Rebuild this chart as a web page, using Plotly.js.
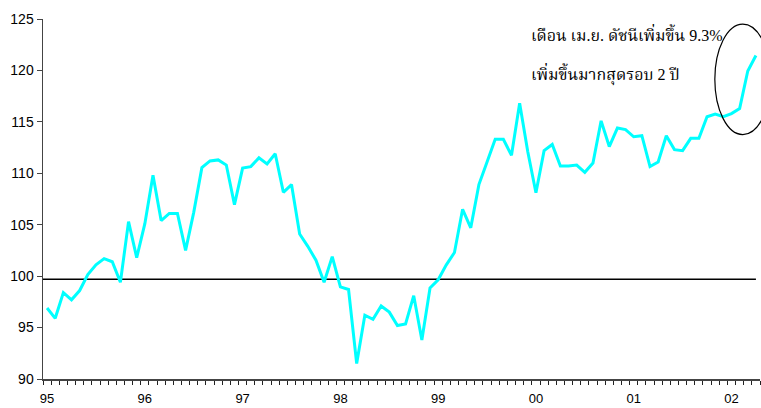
<!DOCTYPE html>
<html>
<head>
<meta charset="utf-8">
<script src="https://cdn.plot.ly/plotly-3.0.1.min.js"></script>
<style>html,body{margin:0;padding:0;background:#fff;}#chart{width:761px;height:408px;}</style>
</head>
<body>
<div id="chart"></div>
<script>
// Monthly index, Jan 1995 .. Apr 2002
const values = [
  96.9, 95.9, 98.4, 97.7, 98.6, 100.15, 101.1, 101.7, 101.4, 99.4, 105.3, 101.8,
  105.1, 109.8, 105.4, 106.1, 106.1, 102.5, 106.2, 110.55, 111.2, 111.3, 110.8, 106.95,
  110.5, 110.65, 111.5, 110.9, 111.9, 108.15, 108.9, 104.1, 102.9, 101.55, 99.4, 101.9,
  98.95, 98.7, 91.5, 96.2, 95.8, 97.1, 96.5, 95.2, 95.35, 98.1, 93.8, 98.85,
  99.65, 101.1, 102.3, 106.5, 104.7, 108.9, 111.1, 113.3, 113.3, 111.75, 116.8, 112.1,
  108.1, 112.2, 112.8, 110.7, 110.7, 110.8, 110.1, 111.0, 115.1, 112.6, 114.4, 114.25,
  113.55, 113.65, 110.65, 111.1, 113.65, 112.3, 112.2, 113.4, 113.4, 115.5, 115.75, 115.5,
  115.8, 116.3, 119.95, 121.45
];
const yearLabels = ['95', '96', '97', '98', '99', '00', '01', '02'];
const yearStartIndex = [0, 12, 24, 36, 48, 60, 72, 84];
const baseline = 99.7;
const noteLine1 = 'เดือน เม.ย. ดัชนีเพิ่มขึ้น 9.3%';
const noteLine2 = 'เพิ่มขึ้นมากสุดรอบ 2 ปี';

const monthIndex = values.map((_, i) => i);

const trace = {
  x: monthIndex,
  y: values,
  type: 'scatter',
  mode: 'lines',
  line: {color: '#00FFFF', width: 3},
  hoverinfo: 'skip'
};

const serif = '"Liberation Serif", "Noto Serif Thai", "Noto Sans Thai", serif';

const layout = {
  width: 761,
  height: 408,
  margin: {l: 43, r: 1, t: 19, b: 29},
  paper_bgcolor: '#fff',
  plot_bgcolor: '#fff',
  showlegend: false,
  xaxis: {
    range: [-0.5, 87.5],
    tickmode: 'array',
    tickvals: yearStartIndex,
    ticktext: yearLabels,
    ticks: '',
    ticklabelstandoff: 7,
    showgrid: false,
    zeroline: false,
    showline: true,
    linecolor: '#444',
    linewidth: 1.5,
    tickfont: {family: 'Liberation Sans, Arial, sans-serif', size: 13, color: '#000'},
    minor: {tickmode: 'linear', tick0: -0.5, dtick: 1, ticks: 'outside', ticklen: 4, tickcolor: '#222', tickwidth: 1, showgrid: false}
  },
  yaxis: {
    range: [90, 125],
    tickmode: 'linear',
    tick0: 90,
    dtick: 5,
    ticks: 'outside',
    ticklen: 5,
    tickcolor: '#444',
    showgrid: false,
    zeroline: false,
    showline: true,
    linecolor: '#444',
    linewidth: 1.5,
    tickfont: {family: 'Liberation Sans, Arial, sans-serif', size: 14, color: '#000'}
  },
  shapes: [
    {type: 'line', xref: 'x', yref: 'y', x0: -0.5, x1: 87, y0: baseline, y1: baseline,
     line: {color: '#000', width: 1.5}, layer: 'below'},
    {type: 'circle', xref: 'paper', yref: 'paper', x0: 0.937, x1: 1.015, y0: 0.679, y1: 0.986,
     line: {color: '#000', width: 1.2}}
  ],
  annotations: [
    {text: noteLine1, xref: 'paper', yref: 'paper', x: 0.678, y: 0.958, xanchor: 'left', yanchor: 'middle',
     showarrow: false, font: {family: serif, size: 16, color: '#000'}},
    {text: noteLine2, xref: 'paper', yref: 'paper', x: 0.678, y: 0.847, xanchor: 'left', yanchor: 'middle',
     showarrow: false, font: {family: serif, size: 16, color: '#000'}}
  ]
};

Plotly.newPlot('chart', [trace], layout, {displayModeBar: false, staticPlot: true});
</script>
</body>
</html>
